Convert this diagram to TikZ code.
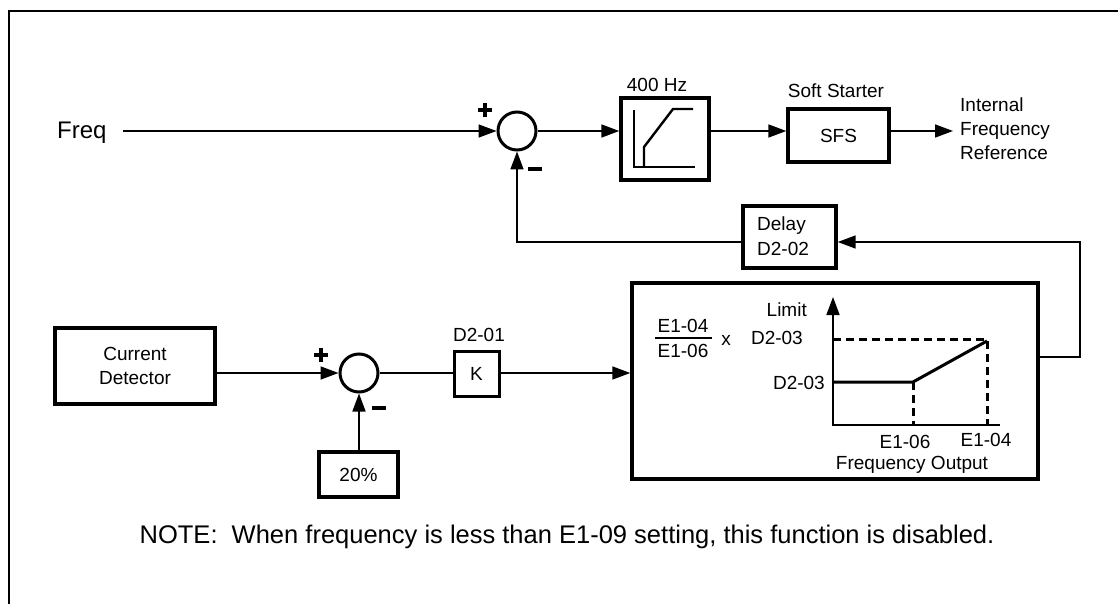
\documentclass[tikz,border=0pt]{standalone}
\usepackage{fontspec}
\setmainfont{Liberation Sans}
\usetikzlibrary{arrows.meta}
\begin{document}
\begin{tikzpicture}[x=1pt,y=-1pt,
  every node/.style={font=\fontsize{19}{24}\selectfont, inner sep=0pt},
  blk/.style={draw, line width=3.4pt, inner sep=0pt},
  sumc/.style={draw, circle, line width=3pt, minimum size=38pt, inner sep=0pt},
  conn/.style={line width=1.7pt},
  arr/.style={conn, -{Triangle[length=18pt,width=13pt]}},
  lbl/.style={anchor=base, yshift=-6.8pt},
  lble/.style={anchor=base east, yshift=-6.8pt},
  sgn/.style={line width=4.5pt}]
\useasboundingbox (0,0) rectangle (1118,604);
% frame
\draw[line width=2pt] (9,604) -- (9,11) -- (1118,11);

% upper loop
\node[anchor=base west, font=\fontsize{24}{28}\selectfont] (freq) at (57,139) {Freq};
\node[sumc] (s1) at (517,131) {};
\node[blk, minimum width=88pt, minimum height=82pt] (lp) at (665,139) {};
\node[lbl] (lpl) at (657,85) {400 Hz};
\node[blk, minimum width=101pt, minimum height=53pt] (sfs) at (838.5,135.5) {SFS};
\node[lbl] (ssl) at (836,91) {Soft Starter};
\coordinate (out) at (953,131);
\coordinate (fin) at (123,131);
\node[anchor=west, align=left] (ifr) at (960,129) {Internal\\Frequency\\Reference};
\node[blk, minimum width=93pt, minimum height=62pt] (dly) at (789.5,237) {};
\node[anchor=west, align=left, font=\fontsize{19}{25}\selectfont] (dlyt) at (757,236) {Delay\\D2-02};

% 400 Hz limiter graph
\draw[line width=1.7pt] (634,110) -- (634,167) -- (695,167);
\draw[line width=2.4pt] (644,167) -- (644,147) -- (673,109) -- (693,109);

% signs
\draw[sgn] (478,110) -- (492,110) (485,103) -- (485,117);
\draw[sgn] (528,169) -- (542,169);
\draw[sgn] (314,355) -- (328,355) (321,348) -- (321,362);
\draw[sgn] (372,408) -- (386,408);

% lower chain
\node[blk, minimum width=160pt, minimum height=76pt, align=center] (cd) at (135,366) {Current\\Detector};
\node[sumc] (s2) at (359,373) {};
\node[blk, minimum width=79pt, minimum height=45pt] (pct) at (358.5,474.5) {20\%};
\node[blk, line width=3pt, minimum width=45pt, minimum height=45pt] (kb) at (476.5,373.5) {K};
\node[lbl] (d201) at (479,335) {D2-01};
\node[blk, minimum width=406pt, minimum height=196pt] (big) at (835,381) {};

\coordinate (fbr) at (1080,357);
\coordinate (fby) at (1080,242);

% connectors
\draw[arr] (fin) -- (s1.west);
\draw[arr] (s1.east) -- (s1.east -| lp.west);
\draw[arr] (lp.east |- s1.east) -- (sfs.west |- s1.east);
\draw[arr] (sfs.east |- s1.east) -- (out);
\draw[arr] (big.east |- fbr) -- (fbr) -- (fby) -- (dly.east |- fby);
\draw[arr] (dly.west |- fby) -| (s1.south);
\draw[arr] (cd.east |- s2.west) -- (s2.west);
\draw[arr] (s2.south |- pct.north) -- (s2.south);
\draw[conn] (s2.east) -- (kb.west |- s2.east);
\draw[arr] (kb.east |- s2.east) -- (big.west |- s2.east);

% limit graph inside big box
\draw[conn, -{Triangle[length=18pt,width=13pt]}] (1000,425) -- (833,425) -- (833,297);
\draw[line width=3pt] (833,382) -- (913,382) -- (987,341);
\draw[line width=3pt, dash pattern=on 8pt off 5pt] (833,339) -- (987,339);
\draw[line width=3pt, dash pattern=on 8pt off 5pt] (913,382) -- (913,425);
\draw[line width=3pt, dash pattern=on 8pt off 5pt] (987,341) -- (987,425);
\node[lble] (lim) at (807,310) {Limit};
\node[lble] (d203a) at (803,338) {D2-03};
\node[lble] (d203b) at (825,383) {D2-03};
\node[lbl] (e106) at (905,442) {E1-06};
\node[lbl] (e104) at (986,440) {E1-04};
\node[lbl] (fo) at (912,463) {Frequency Output};
\node[lbl] (num) at (683,326) {E1-04};
\draw[line width=1.4pt] (655,338) -- (712,338);
\node[lbl] (den) at (683,351) {E1-06};
\node[lbl] (xx) at (726,339) {x};

% note
\node[lbl, font=\fontsize{25.5}{30}\selectfont] (note) at (567,537) {NOTE:\ \ When frequency is less than E1-09 setting, this function is disabled.};
\end{tikzpicture}
\end{document}
